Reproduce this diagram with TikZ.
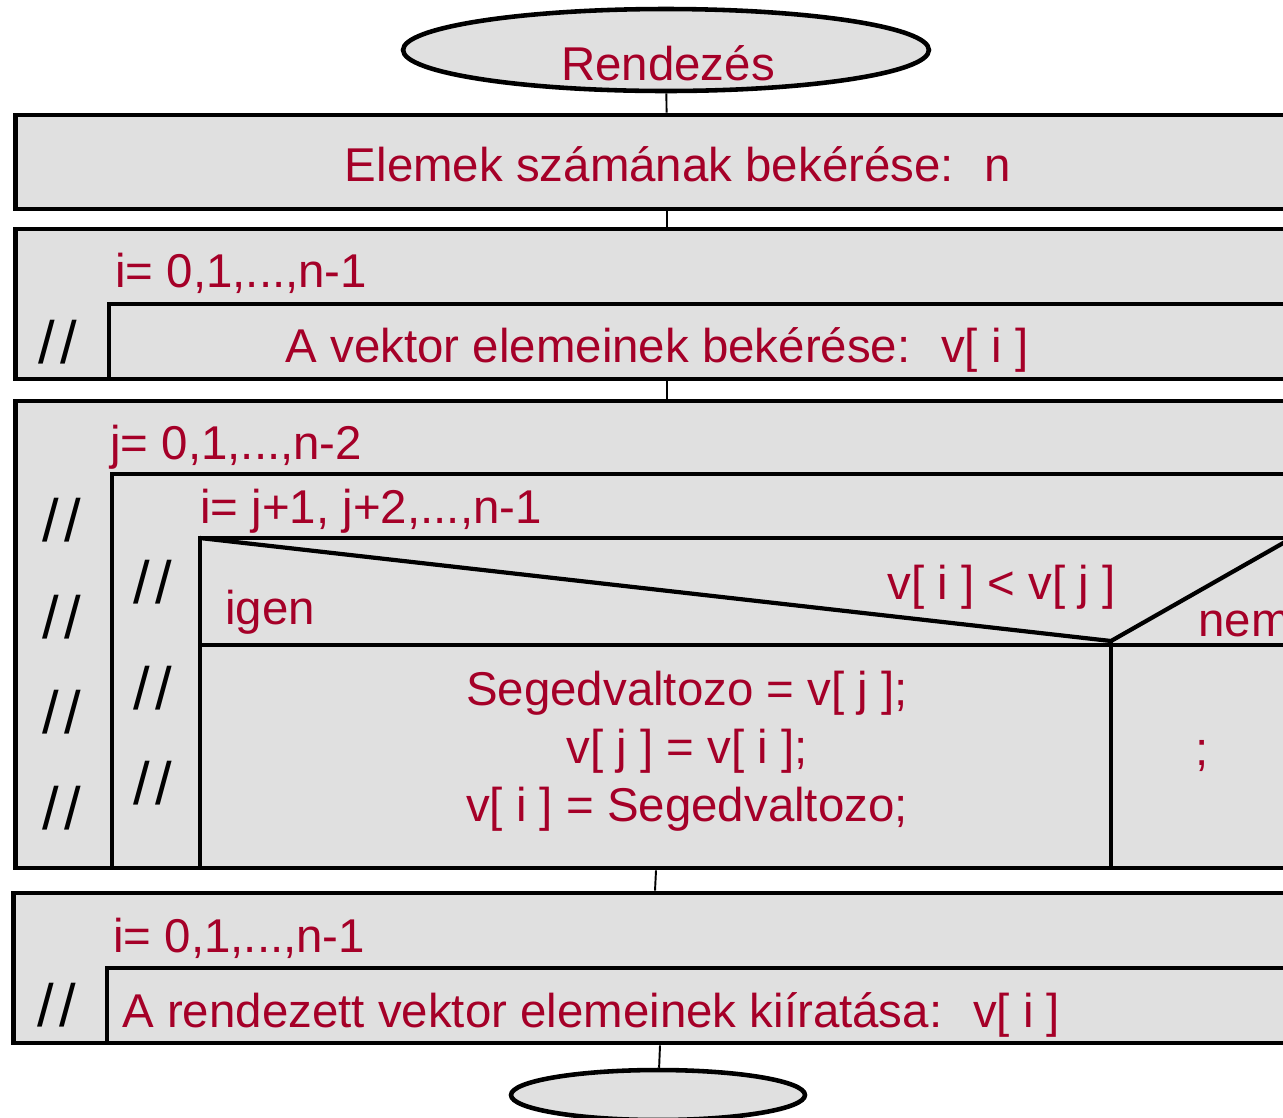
\documentclass[tikz,border=0pt]{standalone}
\usepackage{fontspec}
\setmainfont{Liberation Sans}
\definecolor{txtred}{RGB}{165,0,40}
\definecolor{boxgray}{RGB}{224,224,224}
\tikzstyle{term}=[ellipse,line width=2.6pt,draw=black,fill=boxgray,inner sep=0pt]
\tikzstyle{block}=[rectangle,line width=2.7pt,draw=black,fill=boxgray,
minimum width=26.08cm,inner sep=0pt]
\tikzstyle{inner}=[line width=2.4pt]
\tikzstyle{conn}=[line width=1.1pt]
\tikzstyle{txt}=[text=txtred,inner sep=0pt,font=\fontsize{27}{33}\selectfont]
\tikzstyle{slash}=[inner sep=0pt,font=\fontsize{34}{34}\selectfont]
\usetikzlibrary{positioning,shapes}

\begin{document}
\begin{tikzpicture}[x=0.02cm,y=-0.02cm]
            \path[use as bounding box,clip] (0,0) rectangle (1283,1117);

            % START PART

            \node[term,minimum width=10.52cm,minimum height=1.64cm] (start) at (666,50) {};
            \node[txt,anchor=base] (title) at (668,80) {Rendezés};

            % INPUT n PART

            \node[block,minimum height=1.88cm] (box1) at (667,162) {};
            \node[txt,anchor=base] (readn) at (678,181) {Elemek számának bekérése:~ n};

            % INPUT LOOP PART

            \node[block,minimum height=3cm] (box2) at (667,304) {};
            \draw[inner] (1330,304) -- (109,304) -- (109,379);
            \node[txt,anchor=base west] (loopa) at (115,287) {i= 0,1,...,n-1};
            \node[slash] (sa) at (58,342) {/\hspace{3pt}/};
            \node[txt,anchor=base] (readv) at (657,362) {A vektor elemeinek bekérése:~ v[ i ]};

            % SORT PART

            \node[block,minimum height=9.34cm] (box3) at (667,634.5) {};
            \draw[inner] (1330,474) -- (112,474) -- (112,868);
            \draw[inner] (1330,538) -- (200,538) -- (200,868);
            \draw[inner] (200,538) -- (1111,641) -- (1292,538);
            \draw[inner] (200,645) -- (1330,645);
            \draw[inner] (1111,641) -- (1111,868);

            \node[txt,anchor=base west] (loopj) at (110,459) {j= 0,1,...,n-2};
            \node[txt,anchor=base west] (loopi) at (200,523) {i= j+1, j+2,...,n-1};
            \node[txt,anchor=base west] (yes) at (225,624) {igen};
            \node[txt,anchor=base east] (cond) at (1116,599) {v[ i ] < v[ j ]};
            \node[txt,anchor=base west] (no) at (1198,636) {nem};
            \node[txt,align=center] (swap) at (687,751) {Segedvaltozo = v[ j ];\\v[ j ] = v[ i ];\\v[ i ] = Segedvaltozo;};
            \node[txt,anchor=base] (empty) at (1202,765) {;};

            \foreach \y [count=\k] in {520,617,712,808}
                \node[slash] (so\k) at (62,\y) {/\hspace{3pt}/};
            \foreach \y [count=\k] in {582,688,783}
                \node[slash] (si\k) at (153,\y) {/\hspace{3pt}/};

            % OUTPUT LOOP PART

            \node[block,minimum width=26.12cm,minimum height=3cm] (box4) at (666,968) {};
            \draw[inner] (1330,968) -- (107,968) -- (107,1043);
            \node[txt,anchor=base west] (loopb) at (113,952) {i= 0,1,...,n-1};
            \node[slash] (sb) at (57,1005) {/\hspace{3pt}/};
            \node[txt,anchor=base west] (writev) at (122,1027) {A rendezett vektor elemeinek kiíratása:~ v[ i ]};

            % END PART

            \node[term,minimum width=5.88cm,minimum height=1cm] (end) at (658,1095) {};

            % Connections

            \path[conn] (start) edge (box1);
            \path[conn] (box1) edge (box2);
            \path[conn] (box2) edge (box3);
            \path[conn] ([xshift=-0.22cm]box3.south) edge ([xshift=-0.22cm]box4.north);
            \path[conn] ([xshift=-0.12cm]box4.south) edge (end);

        \end{tikzpicture}
\end{document}
